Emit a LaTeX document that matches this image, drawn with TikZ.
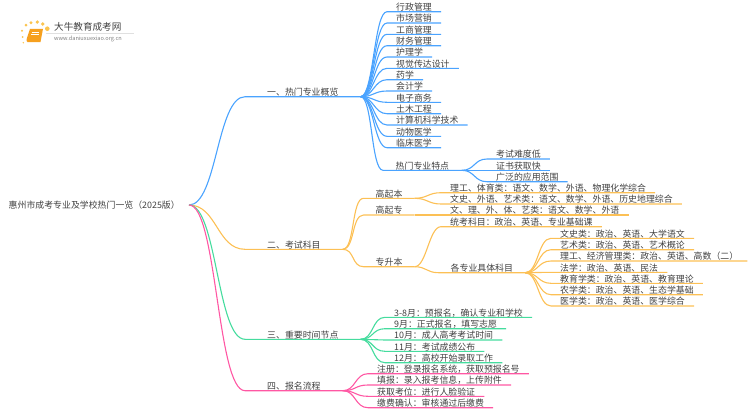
\documentclass[tikz,border=0pt]{standalone}
\usepackage{fontspec}
\setmainfont{Noto Sans CJK SC}
\usepackage{xcolor}
\usetikzlibrary{calc}

\definecolor{blueline}{HTML}{4AA3FF}
\definecolor{orangeline}{HTML}{FCC055}
\definecolor{greenline}{HTML}{45DC9E}
\definecolor{pinkline}{HTML}{FF57A3}
\definecolor{textgrey}{HTML}{404040}
\definecolor{logodot}{HTML}{FBC44F}
\definecolor{logobook}{HTML}{F6A01E}

\tikzset{
    rootbox/.style={anchor=east, inner xsep=9pt, inner ysep=0pt, font=\fontsize{8.9}{10}\selectfont, text=textgrey},
    secbox/.style={anchor=south west, inner xsep=22pt, inner ysep=0pt, text height=7.5pt, text depth=1pt, font=\fontsize{8.9}{10}\selectfont, text=textgrey},
    leaf/.style={secbox, inner xsep=9pt},
    hubleaf/.style={secbox, inner xsep=12.5pt},
    link/.style={line width=1.1pt}
}

% one curved connector with the underline of its target
\newcommand{\branch}[4]{\draw[link,#1] (#2) .. controls +(#4,0) and +(-#4,0) .. (#3.south west) -- (#3.south east);}

\begin{document}
\begin{tikzpicture}[x=1pt,y=-1pt]
    \useasboundingbox (0,0) rectangle (750,410);

    % Logo
    \foreach \x/\y/\r in {22/30.7/1.1,26/25/1.5,31/22.7/1.7,37.3/22/1.8,42.7/24/1.9,47.3/28.7/2.3,22.7/37/1,23.3/42.7/0.8} {
        \fill[logodot] (\x,\y) circle (\r);
    }
    \fill[logobook] (30,28.8) -- (43,28.8) -- (40.5,42) -- (27.5,42) .. controls (26.3,42) and (26.3,40) .. (26.8,38.5) -- cycle;
    \draw[white,line width=0.5pt] (31.5,32) -- (39,32) (31,34.5) -- (38.5,34.5);
    \node[anchor=west, inner sep=0pt, font=\fontsize{9.6}{10}\selectfont, text=textgrey] (logotitle) at (54,27) {大牛教育成考网};
    \node[anchor=west, inner sep=0pt, font=\fontsize{5.6}{7}\selectfont, text=gray] (logourl) at (54,38.7) {www.daniuxuexiao.org.cn};
    \draw[black!12,line width=0.5pt] (logotitle.south west) ++(-8,1.5) -- ++(88,0);

    % Root and the four sections
    \node[rootbox] (root) at (189,205) {惠州市成考专业及学校热门一览（2025版）};
    \node[secbox] (hot) at (245,96.7) {一、热门专业概览};
    \node[secbox] (exam) at (245,249.3) {二、考试科目};
    \node[secbox] (dates) at (245,339.3) {三、重要时间节点};
    \node[secbox] (apply) at (245,390.7) {四、报名流程};
    \branch{blueline}{root.east}{hot}{28}
    \branch{orangeline}{root.east}{exam}{28}
    \branch{greenline}{root.east}{dates}{28}
    \branch{pinkline}{root.east}{apply}{28}

    % Hot majors
    \foreach \i/\y/\txt in {1/11.7/行政管理,2/23/市场营销,3/34.3/工商管理,4/45.7/财务管理,5/57/护理学,6/68.3/视觉传达设计,7/79.7/药学,8/91/会计学,9/102.3/电子商务,10/113.7/土木工程,11/125/计算机科学技术,12/136.3/动物医学,13/147.7/临床医学} {
        \node[leaf] (major\i) at (387,\y) {\txt};
        \branch{blueline}{hot.south east}{major\i}{13}
    }
    \node[hubleaf] (traits) at (383,170.3) {热门专业特点};
    \branch{blueline}{hot.south east}{traits}{12}
    \foreach \i/\y/\txt in {1/159/考试难度低,2/170.3/证书获取快,3/181.7/广泛的应用范围} {
        \node[leaf] (trait\i) at (487,\y) {\txt};
        \branch{blueline}{traits.south east}{trait\i}{13}
    }

    % Exam subjects
    \node[hubleaf, inner xsep=12pt] (gqb) at (363.5,198.3) {高起本};
    \node[hubleaf, inner xsep=12pt] (gqz) at (363.5,215) {高起专};
    \node[hubleaf, inner xsep=12pt] (zsb) at (363.5,266.7) {专升本};
    \branch{orangeline}{exam.south east}{gqb}{12}
    \branch{orangeline}{exam.south east}{gqz}{12}
    \branch{orangeline}{exam.south east}{zsb}{12}
    \node[leaf] (gqb1) at (441,192.7) {理工、体育类：语文、数学、外语、物理化学综合};
    \node[leaf] (gqb2) at (441,204) {文史、外语、艺术类：语文、数学、外语、历史地理综合};
    \node[leaf] (gqz1) at (441,215) {文、理、外、体、艺类：语文、数学、外语};
    \node[leaf] (zsb1) at (441,226.7) {统考科目：政治、英语、专业基础课};
    \node[hubleaf, inner xsep=12pt] (zsb2) at (438.5,272.7) {各专业具体科目};
    \branch{orangeline}{gqb.south east}{gqb1}{13}
    \branch{orangeline}{gqb.south east}{gqb2}{13}
    \branch{orangeline}{gqz.south east}{gqz1}{13}
    \branch{orangeline}{zsb.south east}{zsb1}{12}
    \branch{orangeline}{zsb.south east}{zsb2}{12}
    \foreach \i/\y/\txt in {1/238.3/文史类：政治、英语、大学语文,2/249.7/艺术类：政治、英语、艺术概论,3/261/理工、经济管理类：政治、英语、高数（二）,4/272.3/法学：政治、英语、民法,5/283.3/教育学类：政治、英语、教育理论,6/294.7/农学类：政治、英语、生态学基础,7/306/医学类：政治、英语、医学综合} {
        \node[leaf] (subj\i) at (551,\y) {\txt};
        \branch{orangeline}{zsb2.south east}{subj\i}{13}
    }

    % Key dates
    \foreach \i/\y/\txt in {1/317.3/3-8月：预报名，确认专业和学校,2/328.7/9月：正式报名，填写志愿,3/340/10月：成人高考考试时间,4/351.3/11月：考试成绩公布,5/362.7/12月：高校开始录取工作} {
        \node[leaf] (date\i) at (385,\y) {\txt};
        \branch{greenline}{dates.south east}{date\i}{13}
    }

    % Application steps
    \foreach \i/\y/\txt in {1/373.7/注册：登录报名系统，获取预报名号,2/385/填报：录入报考信息，上传附件,3/396.3/获取考位：进行人脸验证,4/407.7/缴费确认：审核通过后缴费} {
        \node[leaf] (step\i) at (368,\y) {\txt};
        \branch{pinkline}{apply.south east}{step\i}{13}
    }
\end{tikzpicture}
\end{document}
